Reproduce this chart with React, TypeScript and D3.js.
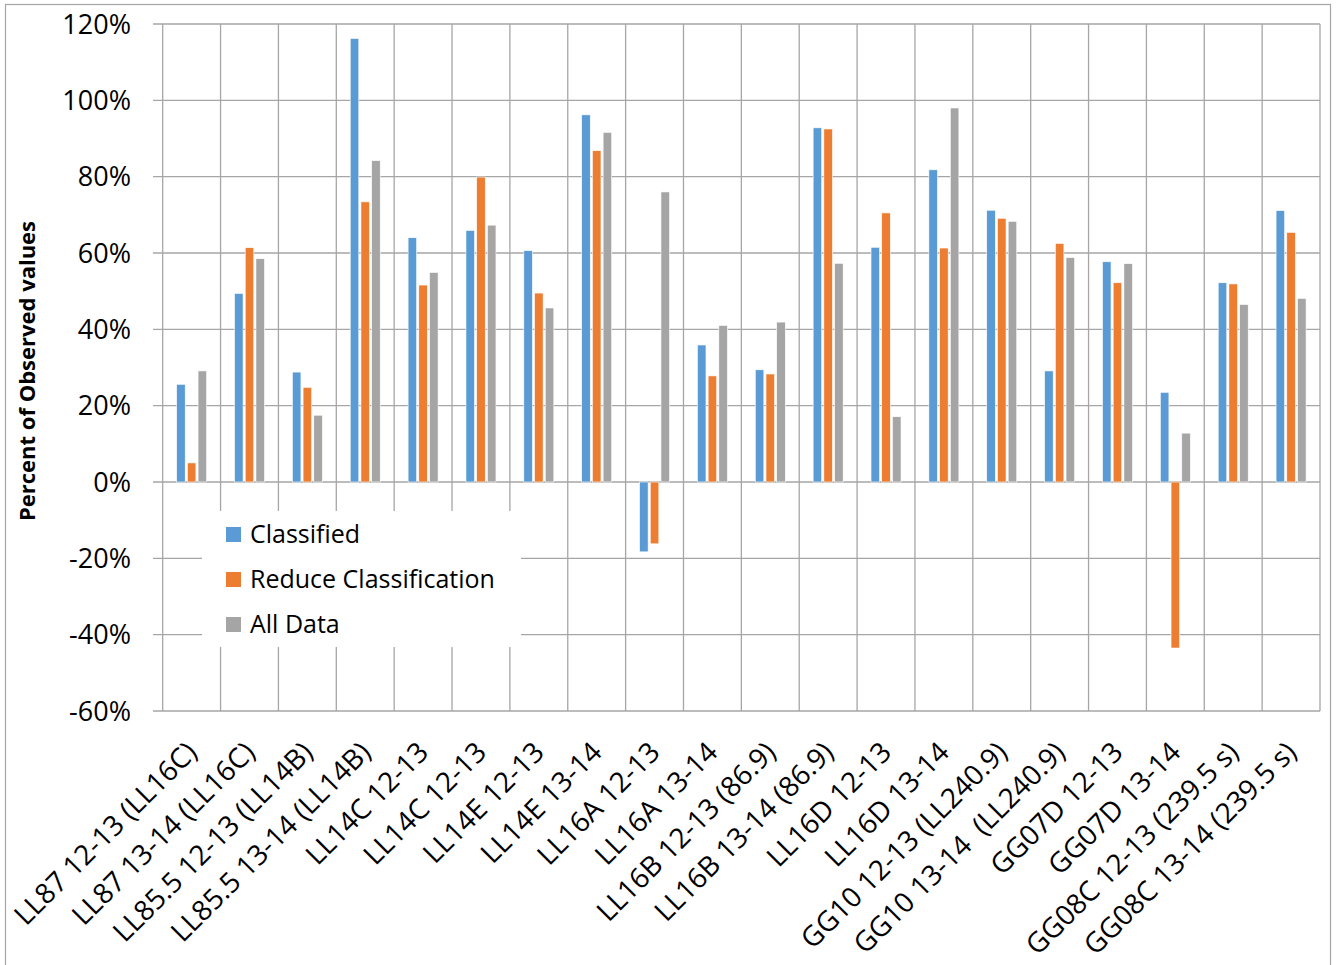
import React from "react";
import * as d3 from "d3";

const categories = [
  "LL87 12-13 (LL16C)",
  "LL87 13-14 (LL16C)",
  "LL85.5 12-13 (LL14B)",
  "LL85.5 13-14 (LL14B)",
  "LL14C 12-13",
  "LL14C 12-13",
  "LL14E 12-13",
  "LL14E 13-14",
  "LL16A 12-13",
  "LL16A 13-14",
  "LL16B 12-13 (86.9)",
  "LL16B 13-14 (86.9)",
  "LL16D 12-13",
  "LL16D 13-14",
  "GG10 12-13 (LL240.9)",
  "GG10 13-14  (LL240.9)",
  "GG07D 12-13",
  "GG07D 13-14",
  "GG08C 12-13 (239.5 s)",
  "GG08C 13-14 (239.5 s)",
];

const classified = [25.6, 49.4, 28.8, 116.2, 64.0, 65.9, 60.6, 96.2, -18.3, 35.9, 29.4, 92.8, 61.5, 81.8, 71.2, 29.1, 57.7, 23.5, 52.2, 71.1];
const reduceClassification = [5.0, 61.4, 24.8, 73.4, 51.6, 79.9, 49.5, 86.8, -16.2, 27.8, 28.3, 92.5, 70.5, 61.3, 69.1, 62.5, 52.2, -43.5, 51.9, 65.4];
const allData = [29.1, 58.5, 17.5, 84.2, 54.9, 67.3, 45.6, 91.6, 76.0, 41.0, 41.9, 57.3, 17.1, 98.0, 68.3, 58.8, 57.2, 12.8, 46.5, 48.1];

const seriesNames = ["Classified", "Reduce Classification", "All Data"];
const seriesColors = ["#5B9BD5", "#ED7D31", "#A5A5A5"];
const yTicks = [-60, -40, -20, 0, 20, 40, 60, 80, 100, 120];

const W = 1338;
const H = 965;
const FONT = "'Open Sans', 'Noto Sans', sans-serif";

export default function App() {
  const series = [classified, reduceClassification, allData];
  const x = d3
    .scaleBand<number>()
    .domain(categories.map((_, i) => i))
    .range([162.7, 1320])
    .padding(0);
  const y = d3.scaleLinear().domain([-60, 120]).range([711, 24]);
  const inner = d3
    .scaleBand<number>()
    .domain([0, 1, 2])
    .range([-15, 15])
    .paddingInner(0.2)
    .paddingOuter(0);

  const gridColor = "#A6A6A6";
  const bounds = d3.range(categories.length + 1).map((i) => 162.7 + i * x.step());

  return (
    <div style={{ position: "absolute", left: 0, top: 0 }}>
      <svg width={W} height={H} style={{ display: "block", background: "#fff" }}>
        <rect x={5.5} y={4.5} width={1325} height={964} fill="#fff" stroke="#A6A6A6" strokeWidth={1.2} />
        {/* horizontal gridlines */}
        {yTicks.map((t) => (
          <line key={"h" + t} x1={153} x2={1320} y1={y(t)} y2={y(t)} stroke={gridColor} strokeWidth={1.3} />
        ))}
        {/* vertical gridlines */}
        {bounds.map((bx, i) => (
          <line key={"v" + i} x1={bx} x2={bx} y1={y(120)} y2={y(-60)} stroke={gridColor} strokeWidth={1.3} />
        ))}
        {/* bars */}
        {series.map((vals, si) => (
          <g key={"s" + si}>
            {vals.map((v, i) => {
              const cx = (x(i) as number) + x.bandwidth() / 2;
              const bx = cx + (inner(si) as number);
              const y0 = y(0);
              const yv = y(v);
              return (
                <rect
                  key={i}
                  x={bx}
                  y={Math.min(y0, yv)}
                  width={inner.bandwidth()}
                  height={Math.abs(yv - y0)}
                  fill={seriesColors[si]}
                  stroke="#fff"
                  strokeWidth={0.6}
                />
              );
            })}
          </g>
        ))}
        {/* y tick labels */}
        {yTicks.map((t) => (
          <text
            key={"yt" + t}
            x={131}
            y={y(t)}
            dy="0.36em"
            textAnchor="end"
            fontFamily={FONT}
            fontSize={27}
            fill="#000"
          >
            {t + "%"}
          </text>
        ))}
        {/* y axis title */}
        <text
          transform={`translate(35, 371) rotate(-90)`}
          textAnchor="middle"
          fontFamily={FONT}
          fontWeight="bold"
          fontSize={22}
          fill="#000"
        >
          Percent of Observed values
        </text>
        {/* category labels */}
        {categories.map((c, i) => {
          const cx = (x(i) as number) + x.bandwidth() / 2;
          return (
            <text
              key={"c" + i}
              transform={`translate(${cx + 7}, 754) rotate(-45)`}
              textAnchor="end"
              fontFamily={FONT}
              fontSize={28}
              fill="#000"
              style={{ whiteSpace: "pre" }}
            >
              {c}
            </text>
          );
        })}
        {/* legend */}
        <g>
          <rect x={202} y={511} width={319} height={136} fill="#fff" />
          {seriesNames.map((n, i) => (
            <g key={"l" + i}>
              <rect x={226} y={527 + i * 45} width={15} height={15} fill={seriesColors[i]} />
              <text x={250} y={543 + i * 45} fontFamily={FONT} fontSize={25} fill="#000">
                {n}
              </text>
            </g>
          ))}
        </g>
      </svg>
    </div>
  );
}
